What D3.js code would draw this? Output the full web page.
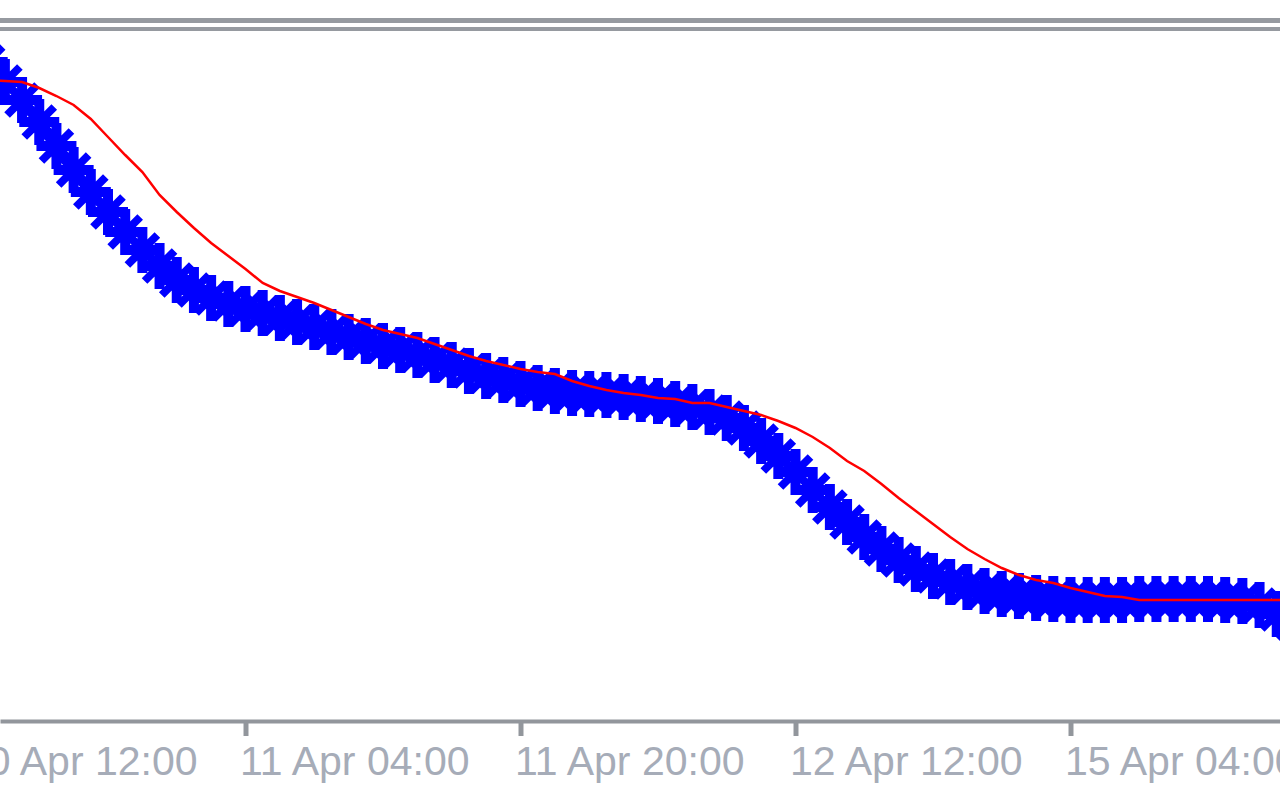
<!DOCTYPE html>
<html>
<head>
<meta charset="utf-8">
<script src="https://cdn.jsdelivr.net/npm/d3@7"></script>
<style>
  html, body { margin: 0; padding: 0; background: #ffffff; }
  svg { display: block; }
</style>
</head>
<body>
<svg id="chart" width="1280" height="800"></svg>
<script>
// ---- data (bar index = hourly bar; values in chart units) ----
const tickBars   = [0, 16, 32, 48, 64];
const tickLabels = ["10 Apr 12:00", "11 Apr 04:00", "11 Apr 20:00", "12 Apr 12:00", "15 Apr 04:00"];

const blueValues = [755,738,718,700,678,654,630,608,588,568,550,534,520,510,502,496,491,487,482,478,
                    473,468,463,459,454,450,445,440,435,429,424,420,416,412,409,407,406,405,403,401,
                    399,396,393,388,382,372,359,344,328,310,293,278,263,251,240,231,224,218,213,209,
                    206,204,202,201,200,200,200,200,201,201,201,201,201,200,199,195,186,175];

const redValues  = [720,720,719,718,712,704,695,681,663,645,628,605,588,572,557,544,531,517,509,503,
                    497,490,483,476,470,466,462,456,450,444,439,435,431,428,426,419,414,410,407,405,
                    402,401,397,397,393,389,385,379,372,363,352,339,329,316,302,289,276,263,251,241,
                    232,225,220,217,212,208,204,203,200,200,200,200,200,200,200,200,200,200];

// ---- layout ----
const W = 1280, H = 800;
const barW = 275 / 16;          // pixels per hourly bar
const firstTickX = -29.5;       // x of bar 0
const svg = d3.select("#chart");

const x = d3.scaleLinear()
  .domain([(0 - firstTickX) / barW, (W - firstTickX) / barW])
  .range([0, W]);
const y = d3.scaleLinear().domain([0, 800]).range([800, 0]);

// top double separator
svg.append("rect").attr("x", 0).attr("y", 18).attr("width", W).attr("height", 5).attr("fill", "#969aa0");
svg.append("rect").attr("x", 0).attr("y", 27).attr("width", W).attr("height", 4).attr("fill", "#969aa0");

// plot clip
svg.append("clipPath").attr("id", "plotClip")
  .append("rect").attr("x", 0).attr("y", 32).attr("width", W).attr("height", 686);

const plot = svg.append("g").attr("clip-path", "url(#plotClip)");

// custom star-cross marker (plus + diagonal cross), all sub-paths clockwise
const crossSymbol = {
  draw(ctx) {
    const poly = pts => {
      ctx.moveTo(pts[0][0], pts[0][1]);
      for (let k = 1; k < pts.length; k++) ctx.lineTo(pts[k][0], pts[k][1]);
      ctx.closePath();
    };
    poly([[-20,-5],[-5,-5],[-5,-23],[5,-23],[5,-5],[20,-5],[20,5],[5,5],[5,23],[-5,23],[-5,5],[-20,5]]);
    poly([[-12.2,-17.8],[17.8,12.2],[12.2,17.8],[-17.8,-12.2]]);
    poly([[12.2,-17.8],[17.8,-12.2],[-12.2,17.8],[-17.8,12.2]]);
  }
};
const sym = d3.symbol().type(crossSymbol);

plot.append("g").selectAll("path")
  .data(blueValues)
  .join("path")
  .attr("d", sym)
  .attr("transform", (d, i) => `translate(${x(i)},${y(d)})`)
  .attr("fill", "#0000ff");

// red line
const line = d3.line().x((d, i) => x(i)).y(d => y(d));
plot.append("path")
  .datum(redValues)
  .attr("d", line)
  .attr("fill", "none")
  .attr("stroke", "#ff0000")
  .attr("stroke-width", 2.5);

// x axis
const axis = d3.axisBottom(x)
  .tickValues(tickBars)
  .tickFormat((d, i) => tickLabels[i])
  .tickSize(15)
  .tickSizeOuter(0);

const gx = svg.append("g").attr("transform", "translate(0,721)").call(axis);
gx.select(".domain").attr("stroke", "#92969c").attr("stroke-width", 4);
gx.selectAll(".tick line").attr("stroke", "#92969c").attr("stroke-width", 5);
gx.selectAll(".tick text")
  .attr("x", -6).attr("y", 54).attr("dy", 0)
  .attr("text-anchor", "start")
  .attr("fill", "#a6acb8")
  .style("font-family", "'Liberation Sans', Arial, sans-serif")
  .style("font-size", "41px");
</script>
</body>
</html>
